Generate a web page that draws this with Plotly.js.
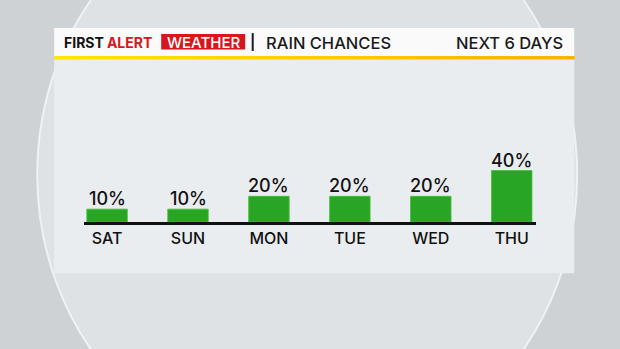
<!DOCTYPE html>
<html><head><meta charset="utf-8">
<script src="https://cdn.plot.ly/plotly-3.0.1.min.js"></script>
<style>html,body{margin:0;padding:0;background:#ced2d4;overflow:hidden;} #chart{width:620px;height:349px;}</style>
</head><body><div id="chart"></div>
<script>
// ---- data ----
const days = ['SAT', 'SUN', 'MON', 'TUE', 'WED', 'THU'];
const rainChance = [10, 10, 20, 20, 20, 40];
const brandDark = 'FIRST';
const brandRed = 'ALERT';
const brandBox = 'WEATHER';
const titleMain = 'RAIN CHANCES';
const titleRight = 'NEXT 6 DAYS';

// ---- geometry helpers (pixel -> paper) ----
const FIG_W = 620, FIG_H = 349;
const M = {l: 83.8, r: 84.2, t: 60, b: 126.5};
const PW = FIG_W - M.l - M.r, PH = FIG_H - M.t - M.b;
const px = x => (x - M.l) / PW;
const py = y => (FIG_H - M.b - y) / PH;

const FONT = 'Inter, "Open Sans", sans-serif';

const shapes = [];
// background lens / circle
shapes.push({type: 'circle', xref: 'paper', yref: 'paper', layer: 'below',
  x0: px(37), x1: px(577), y0: py(468), y1: py(-118),
  fillcolor: '#dfe2e4', line: {color: 'rgba(245,247,248,0.8)', width: 2}});
// panel body
shapes.push({type: 'rect', xref: 'paper', yref: 'paper', layer: 'below',
  x0: px(54), x1: px(574), y0: py(274), y1: py(56),
  fillcolor: '#eaedef', line: {width: 0}});
// header
shapes.push({type: 'rect', xref: 'paper', yref: 'paper', layer: 'below',
  x0: px(54), x1: px(574), y0: py(56), y1: py(28),
  fillcolor: '#fafafa', line: {width: 0}});
// yellow-to-orange underline
const segN = 26;
const c0 = [255, 228, 0], c1 = [255, 176, 0];
for (let i = 0; i < segN; i++) {
  const t = i / (segN - 1);
  const c = c0.map((v, k) => Math.round(v + (c1[k] - v) * t));
  const xa = 54 + (520 * i) / segN, xb = 54 + (520 * (i + 1)) / segN + 0.5;
  shapes.push({type: 'rect', xref: 'paper', yref: 'paper', layer: 'below',
    x0: px(xa), x1: px(xb), y0: py(59.5), y1: py(56),
    fillcolor: `rgb(${c[0]},${c[1]},${c[2]})`, line: {width: 0}});
}
// red box behind WEATHER
shapes.push({type: 'rect', xref: 'paper', yref: 'paper', layer: 'below',
  x0: px(161), x1: px(245), y0: py(49.5), y1: py(34),
  fillcolor: '#d6171e', line: {width: 0}});
// separator bar
shapes.push({type: 'line', xref: 'paper', yref: 'paper', layer: 'below',
  x0: px(252.5), x1: px(252.5), y0: py(51), y1: py(33),
  line: {color: '#1a1a1a', width: 2}});

const annotations = [
  {text: `<b>${brandDark}</b> <span style="color:#d6171e"><b>${brandRed}</b></span>`,
   xref: 'paper', yref: 'paper', x: px(62), y: py(42.5), xanchor: 'left', yanchor: 'middle',
   showarrow: false, font: {family: FONT, size: 14, weight: 800, color: '#111'}},
  {text: brandBox, xref: 'paper', yref: 'paper', x: px(203), y: py(42), xanchor: 'center', yanchor: 'middle',
   showarrow: false, font: {family: FONT, size: 15, weight: 500, color: '#ffffff'}},
  {text: titleMain, xref: 'paper', yref: 'paper', x: px(264), y: py(43), xanchor: 'left', yanchor: 'middle',
   showarrow: false, font: {family: FONT, size: 16.5, weight: 500, color: '#1a1a1a'}},
  {text: titleRight, xref: 'paper', yref: 'paper', x: px(565), y: py(43), xanchor: 'right', yanchor: 'middle',
   showarrow: false, font: {family: FONT, size: 16.5, weight: 500, color: '#1a1a1a'}}
];
// value labels above bars, placed through the data axes
days.forEach((d, i) => {
  annotations.push({text: rainChance[i] + '%', xref: 'x', yref: 'y', x: d, y: rainChance[i],
    xanchor: 'center', yanchor: 'bottom', yshift: -2, showarrow: false,
    font: {family: FONT, size: 18, weight: 500, color: '#111'}});
});

const trace = {
  type: 'bar', x: days, y: rainChance, width: 0.5,
  marker: {color: '#29a526', line: {color: '#3fbf35', width: 0.8}},
  hoverinfo: 'skip'
};

const layout = {
  width: FIG_W, height: FIG_H, margin: M,
  paper_bgcolor: '#ced2d4', plot_bgcolor: 'rgba(0,0,0,0)',
  showlegend: false,
  xaxis: {type: 'category', range: [-0.285, 5.3], showline: true, linecolor: '#111', linewidth: 3,
    ticks: '', showgrid: false, zeroline: false,
    tickfont: {family: FONT, size: 16, weight: 500, color: '#111'}, fixedrange: true},
  yaxis: {range: [0, 126], visible: false, fixedrange: true},
  shapes: shapes, annotations: annotations
};

Plotly.newPlot('chart', [trace], layout, {displayModeBar: false, staticPlot: true});
</script></body></html>
